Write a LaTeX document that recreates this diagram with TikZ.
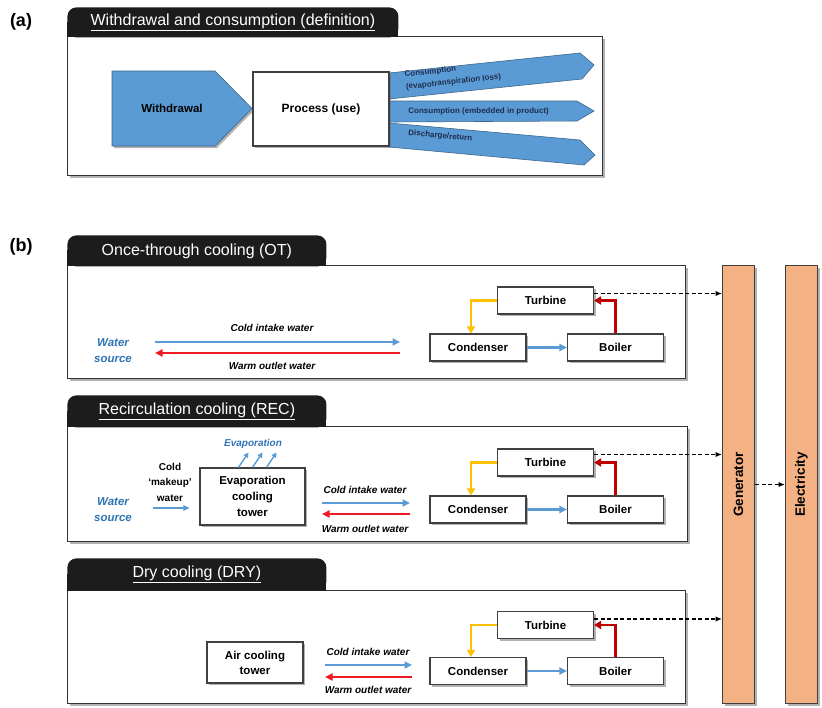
\documentclass[tikz,border=0pt]{standalone}
\usepackage{fontspec}
\setmainfont{Liberation Sans}
\usetikzlibrary{arrows.meta, positioning, shadows}

\definecolor{flowblue}{RGB}{91,155,213}
\definecolor{warmred}{RGB}{237,28,36}
\definecolor{cyclered}{RGB}{192,0,0}
\definecolor{cycleyellow}{RGB}{255,192,0}
\definecolor{genfill}{RGB}{244,177,131}
\definecolor{tabblack}{RGB}{28,28,28}
\definecolor{srcblue}{RGB}{47,117,181}
\definecolor{navy}{RGB}{31,45,78}

\begin{document}
\begin{tikzpicture}[x=1pt, y=-1pt, thick,
    panel/.style={draw=black!80, line width=1.3pt, fill=white, inner sep=0pt, anchor=north west,
        drop shadow={shadow xshift=2.5pt, shadow yshift=-2.5pt, opacity=.6, fill=black!50}},
    tab/.style={fill=tabblack, rounded corners=9pt, inner sep=0pt, anchor=north west,
        text=white, font=\fontsize{16}{18}\selectfont},
    plantbox/.style={draw=black!75, line width=1.1pt, fill=white, inner sep=0pt, align=center,
        minimum width=96pt, minimum height=27pt, font=\bfseries\fontsize{11.5}{13}\selectfont,
        drop shadow={shadow xshift=2pt, shadow yshift=-2pt, opacity=.5, fill=black!60}},
    bar/.style={draw=black!75, line width=1pt, fill=genfill, inner sep=0pt, anchor=north west,
        minimum width=32pt, minimum height=438pt,
        drop shadow={shadow xshift=2pt, shadow yshift=-2pt, opacity=.5, fill=black!60}},
    outflow/.style={fill=flowblue, draw=flowblue!65!black, line width=.6pt},
    waterflow/.style={-{Triangle[length=7.5pt, width=7pt]}, line width=2.3pt},
    steamflow/.style={-{Triangle[length=7pt, width=8pt]}, line width=2.6pt},
    powerlink/.style={-{Latex[length=6.5pt, width=5.5pt]}, line width=1.5pt, dash pattern=on 4pt off 2.5pt},
    flowlabel/.style={font=\bfseries\itshape\fontsize{10}{12}\selectfont},
    srctext/.style={text=srcblue, align=center, font=\bfseries\itshape\fontsize{11.5}{16}\selectfont},
    arrtext/.style={text=navy, inner sep=0pt, font=\bfseries\fontsize{8}{12.5}\selectfont},
    panellabel/.style={font=\bfseries\fontsize{18}{20}\selectfont}
]
\useasboundingbox (0,0) rectangle (822,707);

% (a) withdrawal and consumption
\node[panellabel] (laba) at (21,22) {(a)};
\node[panel, minimum width=535pt, minimum height=139pt] (pana) at (67,36) {};
\fill[tabblack] (67,22) rectangle (398,37);
\node[tab, minimum width=331pt, minimum height=30pt] (taba) at (67,7) {\underline{Withdrawal and consumption (definition)}};

\filldraw[outflow] (389,73) -- (580,53) -- (594,65) -- (582,79) -- (389,99) -- cycle;
\filldraw[outflow] (389,101) -- (577,101) -- (594,111) -- (577,121) -- (389,122) -- cycle;
\filldraw[outflow] (389,123) -- (580,140) -- (595,155) -- (584,165) -- (389,147) -- cycle;
\node[arrtext, align=left, rotate=6, anchor=west] (evloss) at (405,81) {Consumption\\(evapotranspiration loss)};
\node[arrtext, anchor=west] (embed) at (408,111) {Consumption (embedded in product)};
\node[arrtext, rotate=-5.5, anchor=west] (disch) at (408,133) {Discharge/return};

\filldraw[outflow, drop shadow={shadow xshift=2pt, shadow yshift=-2pt, opacity=.5, fill=black!60}]
    (112,71) -- (215,71) -- (252,108.5) -- (215,146) -- (112,146) -- cycle;
\node[font=\bfseries\fontsize{11.5}{13}\selectfont] (wd) at (172,108) {Withdrawal};
\node[plantbox, minimum width=136pt, minimum height=74pt, font=\bfseries\fontsize{12}{13}\selectfont] (proc) at (321,109) {Process (use)};

% (b) cooling types
\node[panellabel] (labb) at (21,247) {(b)};

% generator and electricity
\node[bar] (gen) at (722,265) {};
\node[bar] (elec) at (785,265) {};
\node[rotate=90, font=\bfseries\fontsize{13.5}{15}\selectfont] (gentext) at (gen.center) {Generator};
\node[rotate=90, font=\bfseries\fontsize{13.5}{15}\selectfont] (electext) at (elec.center) {Electricity};
\draw[powerlink] (gen.east) -- (elec.west);

% once-through
\node[panel, minimum width=618pt, minimum height=113pt] (panot) at (67,265) {};
\fill[tabblack] (67,250) rectangle (326,266);
\node[tab, minimum width=259pt, minimum height=31pt] (tabot) at (67,235) {Once-through cooling (OT)};

\node[srctext] (otsrc) at (113,351) {Water\\source};
\coordinate (otleft) at (155,342);
\coordinate (otright) at (400,342);
\draw[waterflow, flowblue] (otleft) -- (otright);
\draw[waterflow, warmred] (otright |- 0,353) -- (otleft |- 0,353);
\node[flowlabel] (otcold) at (272,328) {Cold intake water};
\node[flowlabel] (otwarm) at (272,366) {Warm outlet water};

\node[plantbox] (otturb) at (545.5,300.5) {Turbine};
\node[plantbox] (otcond) at (478,347.5) {Condenser};
\node[plantbox] (otboil) at (615.5,347.5) {Boiler};
\draw[steamflow, cyclered] (otboil.north) |- (otturb.east);
\draw[steamflow, cycleyellow] (otturb.west) -| ([xshift=-7pt]otcond.north);
\draw[waterflow, flowblue] (otcond.east) -- (otboil.west);
\draw[powerlink] ([yshift=7pt]otturb.east) -- ([yshift=7pt]otturb.east -| gen.west);

% recirculation
\node[panel, minimum width=620pt, minimum height=115pt] (panrec) at (67,426) {};
\fill[tabblack] (67,411) rectangle (326,427);
\node[tab, minimum width=259pt, minimum height=32pt] (tabrec) at (67,395) {\underline{Recirculation cooling (REC)}};

\node[srctext] (recsrc) at (113,510) {Water\\source};
\node[align=center, font=\bfseries\fontsize{10}{15.5}\selectfont] (makeup) at (170,482) {Cold\\`makeup'\\water};
\node[plantbox, minimum width=105pt, minimum height=57pt, font=\bfseries\fontsize{11.5}{16}\selectfont] (rectower) at (252.5,496.5) {Evaporation\\cooling\\tower};
\coordinate (mkstart) at (153,508);
\draw[-{Triangle[length=6pt, width=5.5pt]}, line width=1.5pt, flowblue, shorten >=10pt] (mkstart) -- (mkstart -| rectower.west);
\foreach \dx in {-14,0,14}
    \draw[-{Triangle[length=5pt, width=5pt]}, line width=1.4pt, flowblue] ([xshift=\dx pt]rectower.north) -- ++(10,-15);
\node[text=srcblue, font=\bfseries\itshape\fontsize{10}{12}\selectfont] (evap) at (253,444) {Evaporation};

\coordinate (recleft) at (322,503);
\coordinate (recright) at (410,503);
\draw[waterflow, flowblue] (recleft) -- (recright);
\draw[waterflow, warmred] (recright |- 0,514) -- (recleft |- 0,514);
\node[flowlabel] (reccold) at (365,490) {Cold intake water};
\node[flowlabel] (recwarm) at (365,529) {Warm outlet water};

\node[plantbox] (recturb) at (545.5,462.5) {Turbine};
\node[plantbox] (reccond) at (478,509.5) {Condenser};
\node[plantbox] (recboil) at (615.5,509.5) {Boiler};
\draw[steamflow, cyclered] (recboil.north) |- (recturb.east);
\draw[steamflow, cycleyellow] (recturb.west) -| ([xshift=-7pt]reccond.north);
\draw[waterflow, flowblue] (reccond.east) -- (recboil.west);
\draw[powerlink] ([yshift=8pt]recturb.east) -- ([yshift=8pt]recturb.east -| gen.west);

% dry
\node[panel, minimum width=618pt, minimum height=113pt] (pandry) at (67,590) {};
\fill[tabblack] (67,574) rectangle (326,591);
\node[tab, minimum width=259pt, minimum height=32pt] (tabdry) at (67,558) {\underline{Dry cooling (DRY)}};

\node[plantbox, minimum width=96pt, minimum height=41pt, font=\bfseries\fontsize{11.5}{15}\selectfont] (drytower) at (255,662.5) {Air cooling\\tower};
\coordinate (dryleft) at (325,665);
\coordinate (dryright) at (412,665);
\draw[waterflow, flowblue] (dryleft) -- (dryright);
\draw[waterflow, warmred] (dryright |- 0,677) -- (dryleft |- 0,677);
\node[flowlabel] (drycold) at (368,652) {Cold intake water};
\node[flowlabel] (drywarm) at (368,690) {Warm outlet water};

\node[plantbox] (dryturb) at (545.5,625) {Turbine};
\node[plantbox] (drycond) at (478,671) {Condenser};
\node[plantbox] (dryboil) at (615.5,671) {Boiler};
\draw[steamflow, cyclered] (dryboil.north) |- (dryturb.east);
\draw[steamflow, cycleyellow] (dryturb.west) -| ([xshift=-7pt]drycond.north);
\draw[waterflow, flowblue] (drycond.east) -- (dryboil.west);
\draw[powerlink] ([yshift=6pt]dryturb.east) -- ([yshift=6pt]dryturb.east -| gen.west);
\end{tikzpicture}
\end{document}
